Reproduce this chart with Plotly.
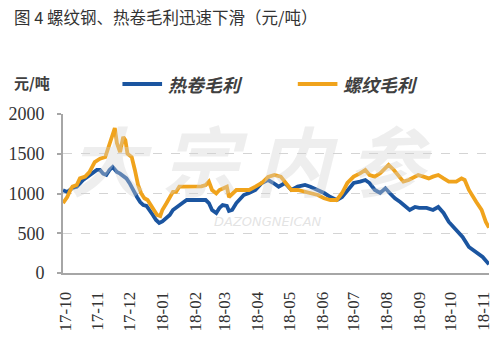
import plotly.graph_objects as go

# 热卷毛利 (hot-rolled coil gross margin), 元/吨
hrc_dates = [
    "2017-09-29", "2017-10-03", "2017-10-08", "2017-10-12", "2017-10-18", "2017-10-24",
    "2017-10-31", "2017-11-03", "2017-11-06", "2017-11-09", "2017-11-12", "2017-11-15",
    "2017-11-19", "2017-11-22", "2017-11-25", "2017-11-28", "2017-12-01", "2017-12-04",
    "2017-12-08", "2017-12-11", "2017-12-14", "2017-12-17", "2017-12-20", "2017-12-23",
    "2017-12-26", "2017-12-29", "2018-01-01", "2018-01-05", "2018-01-08", "2018-01-11",
    "2018-01-14", "2018-01-17", "2018-01-20", "2018-01-24", "2018-02-02", "2018-02-11",
    "2018-02-14", "2018-02-17", "2018-02-21", "2018-02-24", "2018-02-27", "2018-03-03",
    "2018-03-05", "2018-03-08", "2018-03-12", "2018-03-15", "2018-03-19", "2018-03-24",
    "2018-03-30", "2018-04-05", "2018-04-11", "2018-04-16", "2018-04-21", "2018-04-27",
    "2018-05-03", "2018-05-09", "2018-05-16", "2018-05-21", "2018-05-28", "2018-06-03",
    "2018-06-09", "2018-06-15", "2018-06-20", "2018-06-25", "2018-07-01", "2018-07-07",
    "2018-07-12", "2018-07-16", "2018-07-21", "2018-07-26", "2018-07-31", "2018-08-04",
    "2018-08-09", "2018-08-14", "2018-08-18", "2018-08-23", "2018-08-28", "2018-09-01",
    "2018-09-08", "2018-09-14", "2018-09-19", "2018-09-24", "2018-09-29", "2018-10-06",
    "2018-10-12", "2018-10-18", "2018-10-25", "2018-10-31", "2018-11-06",
]
hrc_margin = [
    1040, 1020, 1070, 1085, 1170, 1233,
    1296, 1296, 1250, 1233, 1296, 1333,
    1270, 1250, 1220, 1190, 1130, 1044,
    956, 893, 855, 843, 793, 730,
    667, 629, 650, 692, 730, 793,
    818, 855, 880, 918, 918, 918,
    880, 793, 755, 818, 855, 843,
    780, 793, 880, 918, 981, 1006,
    1044, 1132, 1170, 1132, 1086, 1132,
    1044, 1086, 1107, 1086, 1044, 1006,
    956, 918, 956, 1044, 1132, 1150,
    1170, 1132, 1044, 1006, 1065, 1006,
    940, 893, 855, 793, 830, 818,
    818, 793, 830, 755, 642, 541,
    453, 327, 252, 201, 110,
]

# 螺纹毛利 (rebar gross margin), 元/吨
rebar_dates = [
    "2017-09-29", "2017-10-03", "2017-10-06", "2017-10-08", "2017-10-12", "2017-10-15",
    "2017-10-20", "2017-10-24", "2017-10-29", "2017-11-03", "2017-11-08", "2017-11-10",
    "2017-11-14", "2017-11-17", "2017-11-19", "2017-11-22", "2017-11-25", "2017-11-27",
    "2017-11-29", "2017-12-03", "2017-12-06", "2017-12-09", "2017-12-12", "2017-12-15",
    "2017-12-18", "2017-12-21", "2017-12-24", "2017-12-27", "2017-12-30", "2018-01-01",
    "2018-01-05", "2018-01-08", "2018-01-11", "2018-01-14", "2018-01-17", "2018-01-24",
    "2018-02-02", "2018-02-07", "2018-02-11", "2018-02-14", "2018-02-17", "2018-02-21",
    "2018-02-24", "2018-02-27", "2018-03-03", "2018-03-05", "2018-03-08", "2018-03-12",
    "2018-03-17", "2018-03-24", "2018-03-30", "2018-04-05", "2018-04-11", "2018-04-17",
    "2018-04-23", "2018-04-28", "2018-05-03", "2018-05-09", "2018-05-16", "2018-05-21",
    "2018-05-28", "2018-06-03", "2018-06-09", "2018-06-15", "2018-06-20", "2018-06-25",
    "2018-07-01", "2018-07-07", "2018-07-12", "2018-07-16", "2018-07-21", "2018-07-26",
    "2018-07-31", "2018-08-03", "2018-08-08", "2018-08-13", "2018-08-17", "2018-08-22",
    "2018-08-27", "2018-08-31", "2018-09-05", "2018-09-10", "2018-09-14", "2018-09-19",
    "2018-09-24", "2018-09-29", "2018-10-06", "2018-10-11", "2018-10-14", "2018-10-18",
    "2018-10-25", "2018-10-30", "2018-11-03", "2018-11-06",
]
rebar_margin = [
    880, 956, 1044, 1086, 1107, 1190,
    1212, 1270, 1396, 1438, 1459, 1543,
    1711, 1824, 1635, 1522, 1711, 1669,
    1501, 1459, 1296, 1107, 1000, 940,
    918, 855, 793, 730, 717, 793,
    880, 956, 1020, 1020, 1086, 1086,
    1090, 1090, 1107, 1150, 1044, 1000,
    1044, 1065, 1086, 956, 1000, 1044,
    1044, 1044, 1086, 1132, 1208, 1233,
    1212, 1132, 1044, 1044, 1020, 1006,
    981, 940, 918, 918, 1006, 1132,
    1212, 1254, 1296, 1233, 1212, 1254,
    1317, 1359, 1296, 1212, 1150, 1170,
    1212, 1233, 1212, 1190, 1212, 1233,
    1190, 1150, 1150, 1190, 1170, 1044,
    893, 793, 642, 570,
]

series_names = ["热卷毛利", "螺纹毛利"]
series_colors = ["#1b55a0", "#f0a31c"]
y_ticks = [0, 500, 1000, 1500, 2000]

title_text = "图 4 螺纹钢、热卷毛利迅速下滑（元/吨）"
unit_text = "元/吨"

W, H = 500, 338
ML, MR, MT, MB = 63, 7, 114, 65
PW, PH = W - ML - MR, H - MT - MB


def px(x):
    return (x - ML) / PW


def py(y):
    return (H - MB - y) / PH


cjk = "Noto Sans CJK SC"
serif = "Liberation Serif, Times New Roman, serif"

fig = go.Figure()
for name, color, xs, ys in zip(series_names, series_colors,
                               [hrc_dates, rebar_dates], [hrc_margin, rebar_margin]):
    fig.add_trace(go.Scatter(x=xs, y=ys, mode="lines", name=name,
                             line=dict(color=color, width=3.8),
                             showlegend=False))

# watermark
annotations = [
    dict(text="大 宗 内 参", x=px(252), y=py(158), xref="paper", yref="paper",
         xanchor="center", yanchor="middle", showarrow=False,
         font=dict(family=cjk, size=76, color="rgba(210,210,210,0.38)",
                   weight="bold", style="italic")),
    dict(text="DAZONGNEICAN", x=px(270), y=py(221), xref="paper", yref="paper",
         xanchor="center", yanchor="middle", showarrow=False,
         font=dict(family="DejaVu Sans", size=13,
                   color="rgba(200,200,200,0.5)", style="italic")),
    dict(text=title_text, x=px(12), y=py(17), xref="paper", yref="paper",
         xanchor="left", yanchor="middle", showarrow=False,
         font=dict(family=cjk, size=16.5, color="#333333")),
    dict(text=unit_text, x=px(12), y=py(82), xref="paper", yref="paper",
         xanchor="left", yanchor="middle", showarrow=False,
         font=dict(family=cjk, size=15, color="#404040", weight="bold")),
]

# hand-drawn legend
shapes = []
legend_x = [123, 300]
for name, color, lx in zip(series_names, series_colors, legend_x):
    shapes.append(dict(type="line", xref="paper", yref="paper",
                       x0=px(lx), x1=px(lx + 40), y0=py(84), y1=py(84),
                       line=dict(color=color, width=4)))
    annotations.append(dict(text=name, x=px(lx + 44), y=py(84), xref="paper", yref="paper",
                            xanchor="left", yanchor="middle", showarrow=False,
                            font=dict(family=cjk, size=18, color="#404040",
                                      weight="bold", style="italic")))

fig.update_layout(
    width=W, height=H,
    margin=dict(l=ML, r=MR, t=MT, b=MB),
    paper_bgcolor="white", plot_bgcolor="white",
    annotations=annotations, shapes=shapes,
    xaxis=dict(type="date", range=["2017-09-29", "2018-11-06"],
               tick0="2017-10-01", dtick="M1", tickformat="%y-%m", tickangle=-90,
               ticks="outside", ticklen=10, tickcolor="rgba(0,0,0,0)",
               tickfont=dict(family=serif, size=17, color="#333333"),
               showgrid=False, showline=True, linecolor="#a6a6a6", linewidth=2,
               zeroline=False),
    yaxis=dict(range=[0, 2000], tickvals=y_ticks,
               ticks="outside", ticklen=4, tickcolor="#a6a6a6", tickwidth=1.5,
               ticklabelstandoff=9,
               tickfont=dict(family=serif, size=18, color="#333333"),
               showgrid=True, gridcolor="#d4d4d4", griddash="dash", gridwidth=1.2,
               showline=True, linecolor="#a6a6a6", linewidth=2, zeroline=False),
)

fig.write_html("out.html")
